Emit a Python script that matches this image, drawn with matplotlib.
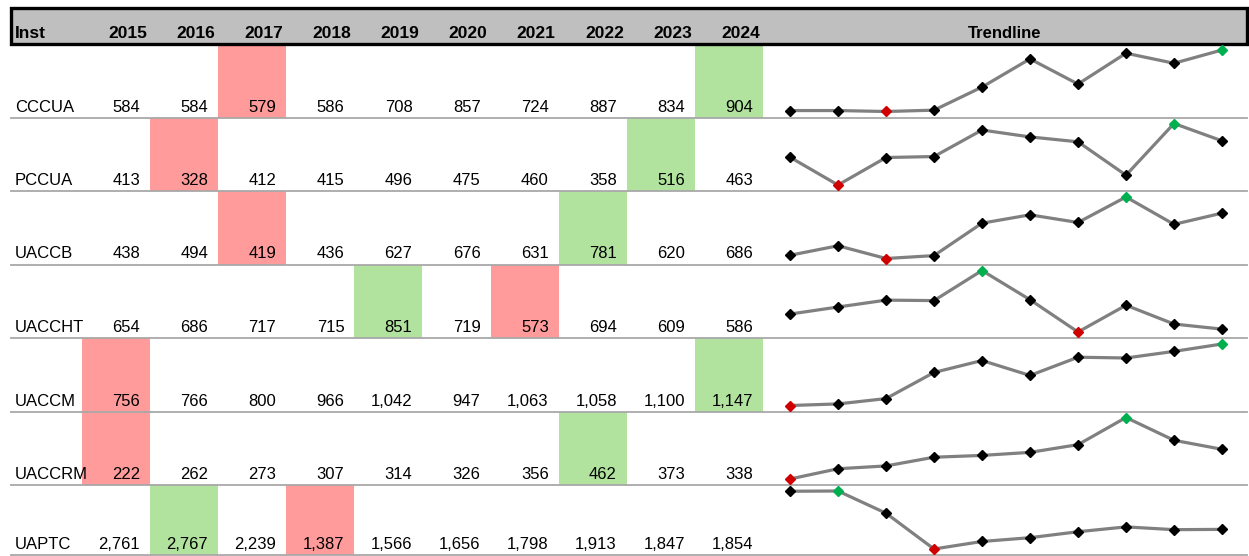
import matplotlib
matplotlib.use("Agg")
import matplotlib.pyplot as plt
from matplotlib.patches import Rectangle

plt.rcParams['font.family'] = ['Liberation Sans Narrow', 'Liberation Sans', 'DejaVu Sans']

# table data
years = [2015, 2016, 2017, 2018, 2019, 2020, 2021, 2022, 2023, 2024]
insts = ['CCCUA', 'PCCUA', 'UACCB', 'UACCHT', 'UACCM', 'UACCRM', 'UAPTC']
cccua = [584, 584, 579, 586, 708, 857, 724, 887, 834, 904]
pccua = [413, 328, 412, 415, 496, 475, 460, 358, 516, 463]
uaccb = [438, 494, 419, 436, 627, 676, 631, 781, 620, 686]
uaccht = [654, 686, 717, 715, 851, 719, 573, 694, 609, 586]
uaccm = [756, 766, 800, 966, 1042, 947, 1063, 1058, 1100, 1147]
uaccrm = [222, 262, 273, 307, 314, 326, 356, 462, 373, 338]
uaptc = [2761, 2767, 2239, 1387, 1566, 1656, 1798, 1913, 1847, 1854]
rows = [cccua, pccua, uaccb, uaccht, uaccm, uaccrm, uaptc]

W, H = 1249, 556
RED = '#ff9b9b'
GREEN = '#b1e39e'
GRID = '#a8a8a8'

# layout in pixels
left, right = 11, 1247
head_top, head_bot = 8, 44
row_h = 73.5
col0, col_w = 82, 68.1
trend_l = col0 + col_w * 10
spark_x0, spark_x1 = 790, 1222
FS = 12

fig = plt.figure(figsize=(W / 100, H / 100), dpi=100)
ax = fig.add_axes([0, 0, 1, 1])
ax.set_xlim(0, W)
ax.set_ylim(H, 0)
ax.axis('off')

# header
ax.add_patch(Rectangle((left, head_top), right - left, head_bot - head_top,
                       facecolor='#bfbfbf', edgecolor='black', linewidth=2.4, zorder=3))
ax.text(left + 4, head_bot - 6, 'Inst', fontsize=FS + 0.5, fontweight='bold', ha='left', va='baseline', zorder=4)
for i, y in enumerate(years):
    ax.text(col0 + col_w * (i + 1) - 3, head_bot - 6, str(y), fontsize=FS + 0.5, fontweight='bold',
            ha='right', va='baseline', zorder=4)
ax.text((trend_l + right) / 2, head_bot - 6, 'Trendline', fontsize=12, fontweight='bold',
        ha='center', va='baseline', zorder=4, family=['Liberation Sans', 'DejaVu Sans'])

for r, (name, vals) in enumerate(zip(insts, rows)):
    top = head_bot + row_h * r
    bot = min(top + row_h, H - 1)
    lo, hi = vals.index(min(vals)), vals.index(max(vals))
    for i, v in enumerate(vals):
        x0 = col0 + col_w * i
        if i == lo or i == hi:
            ax.add_patch(Rectangle((x0, top), col_w, bot - top,
                                   facecolor=RED if i == lo else GREEN, edgecolor='none', zorder=1))
        ax.text(x0 + col_w - 10, bot - 6, f'{v:,}', fontsize=FS, ha='right', va='baseline', zorder=4)
    ax.text(left + 4, bot - 6, name, fontsize=FS, ha='left', va='baseline', zorder=4)
    ax.plot([left, right], [bot, bot], color=GRID, linewidth=1.3, zorder=2)

    # sparkline
    sx = fig.add_axes([spark_x0 / W, 1 - (bot - 6) / H,
                       (spark_x1 - spark_x0) / W, (bot - top - 12) / H])
    sx.axis('off')
    sx.set_xlim(0, len(vals) - 1)
    sx.set_ylim(min(vals), max(vals))
    xs = list(range(len(vals)))
    sx.plot(xs, vals, color='#808080', linewidth=2.3, clip_on=False, zorder=1)
    mcol = ['#d00000' if i == lo else '#00b050' if i == hi else 'black' for i in xs]
    for i in xs:
        sx.plot(i, vals[i], marker='D', markersize=4.8, color=mcol[i], clip_on=False, zorder=2)

fig.savefig('out.png', dpi=100)
